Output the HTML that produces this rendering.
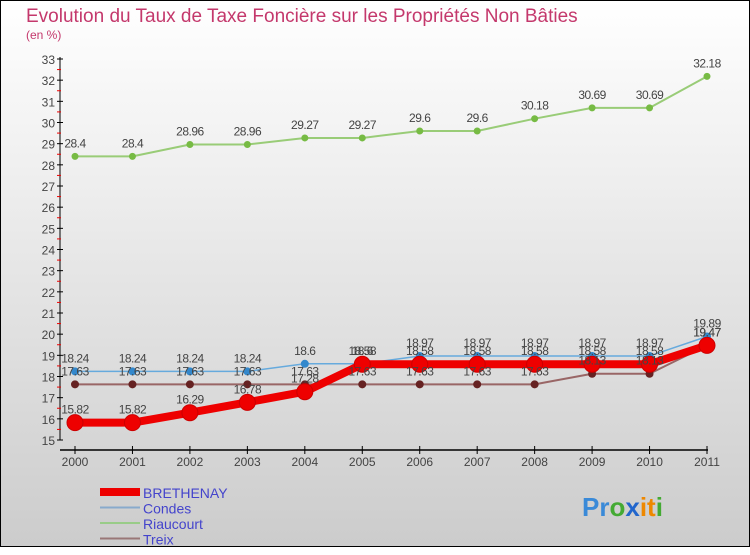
<!DOCTYPE html>
<html><head><meta charset="utf-8"><style>
html,body{margin:0;padding:0}
body{width:750px;height:550px;overflow:hidden;font-family:"Liberation Sans",sans-serif}
</style></head><body>
<svg id="chart" width="750" height="550" xmlns="http://www.w3.org/2000/svg" font-family="Liberation Sans, sans-serif">
<defs><linearGradient id="bg" x1="0" y1="0" x2="0" y2="1"><stop offset="0" stop-color="#ffffff"/><stop offset="1" stop-color="#cccccc"/></linearGradient></defs>
<rect x="0.5" y="0.5" width="749" height="546" fill="url(#bg)" stroke="#000"/>
<text x="26" y="22" font-size="19" fill="#c4386c">Evolution du Taux de Taxe Foncière sur les Propriétés Non Bâties</text>
<text x="26" y="39" font-size="12" fill="#c4386c">(en %)</text>
<g id="axes"></g><g id="series"></g><g id="labels"></g><g id="legend"></g>
<text x="582" y="516" font-size="26" font-weight="bold"><tspan fill="#3a8ad8">Pr</tspan><tspan fill="#44aa33">o</tspan><tspan fill="#2266cc">x</tspan><tspan fill="#ee8800">it</tspan><tspan fill="#44aa33">i</tspan></text>
</svg>
<script>
const years=[2000,2001,2002,2003,2004,2005,2006,2007,2008,2009,2010,2011];
const yTicks=[15,16,17,18,19,20,21,22,23,24,25,26,27,28,29,30,31,32,33];
const brethenay=[15.82,15.82,16.29,16.78,17.28,18.58,18.58,18.58,18.58,18.58,18.58,19.47];
const condes=[18.24,18.24,18.24,18.24,18.6,18.6,18.97,18.97,18.97,18.97,18.97,19.89];
const riaucourt=[28.4,28.4,28.96,28.96,29.27,29.27,29.6,29.6,30.18,30.69,30.69,32.18];
const treix=[17.63,17.63,17.63,17.63,17.63,17.63,17.63,17.63,17.63,18.13,18.13,19.47];
const NS="http://www.w3.org/2000/svg";
const x0=75,x1=707,yb=440,yt=59,vmin=15,vmax=33;
function X(i){return x0+(x1-x0)*i/(years.length-1);}
function Y(v){return yb-(v-vmin)*(yb-yt)/(vmax-vmin);}
function mk(p,tag,a){const e=document.createElementNS(NS,tag);for(const k in a)e.setAttribute(k,a[k]);p.appendChild(e);return e;}
const axes=document.getElementById('axes');
let ax=mk(axes,'line',{x1:60,y1:yt-2,x2:60,y2:yb,stroke:'#000'});


let xa=mk(axes,'line',{x1:60,y1:450,x2:x1+1,y2:450,stroke:'#000','stroke-width':1.5});


yTicks.forEach(v=>{
 mk(axes,'line',{x1:57,y1:Y(v),x2:63,y2:Y(v),stroke:'#000'});
 if(v<vmax)mk(axes,'line',{x1:57,y1:Y(v+0.5),x2:61,y2:Y(v+0.5),stroke:'#e00'});
 const t=mk(axes,'text',{x:55,y:Y(v)+5,'font-size':12,fill:'#444','text-anchor':'end'});
 t.textContent=v;
 
 
});
years.forEach((yr,i)=>{
 mk(axes,'line',{x1:X(i),y1:446,x2:X(i),y2:454,stroke:'#000'});
 const t=mk(axes,'text',{x:X(i),y:466,'font-size':12,fill:'#444','text-anchor':'middle'});
 t.textContent=yr;
 
 
});
const ser=[
 {name:'riaucourt',data:riaucourt,c:'#99cc77',w:2,r:3.5,f:'#77bb44'},
 {name:'treix',data:treix,c:'#996666',w:2,r:4,f:'#662222'},
 {name:'condes',data:condes,c:'#66aadd',w:1.5,r:4,f:'#3388cc'},
 {name:'brethenay',data:brethenay,c:'#ee0000',w:8,r:8,f:'#ee0000'}
];
const sg=document.getElementById('series'),lg=document.getElementById('labels');
ser.forEach(s=>{
 const pts=s.data.map((v,i)=>X(i)+','+Y(v)).join(' ');
 const pl=mk(sg,'polyline',{points:pts,fill:'none',stroke:s.c,'stroke-width':s.w,'stroke-linejoin':'round'});
 
 
 s.data.forEach((v,i)=>{
  const c=mk(sg,'circle',{cx:X(i),cy:Y(v),r:s.r,fill:s.f,stroke:s.name==='brethenay'?'#cc0000':'none'});
  
  
  const t=mk(lg,'text',{x:X(i),y:Y(v)-9,'font-size':12,fill:'#444','text-anchor':'middle','letter-spacing':'-0.5'});
  t.textContent=v;
  
  
 });
});
const leg=document.getElementById('legend');
const legItems=[['BRETHENAY','#ee0000',8],['Condes','#88aacc',2],['Riaucourt','#99cc88',2],['Treix','#997777',2]];
legItems.forEach((l,i)=>{
 const y=492+i*15.5;
 const ln=mk(leg,'line',{x1:100,y1:y,x2:140,y2:y,stroke:l[1],'stroke-width':l[2]});
 
 
 const t=mk(leg,'text',{x:143,y:y+6,'font-size':14,fill:'#4444cc'});
 t.textContent=l[0];
 
 
});
</script>
</body></html>
